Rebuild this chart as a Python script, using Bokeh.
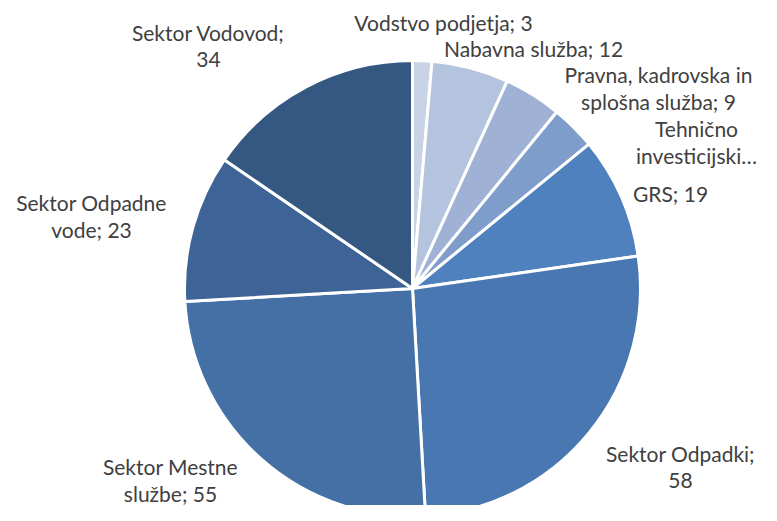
import math
from bokeh.plotting import figure
from bokeh.models import Range1d, ColumnDataSource
from bokeh.core.properties import value
from bokeh.embed import file_html
from bokeh.resources import INLINE

# ---- data ----
categories = ["Vodstvo podjetja", "Nabavna služba", "Pravna, kadrovska in splošna služba",
              "Tehnično investicijski", "GRS", "Sektor Odpadki", "Sektor Mestne službe",
              "Sektor Odpadne vode", "Sektor Vodovod"]
values = [3, 12, 9, 7, 19, 58, 55, 23, 34]
label_lines = [
    ["Vodstvo podjetja; 3"],
    ["Nabavna služba; 12"],
    ["Pravna, kadrovska in", "splošna služba; 9"],
    ["Tehnično", "investicijski…"],
    ["GRS; 19"],
    ["Sektor Odpadki;", "58"],
    ["Sektor Mestne", "službe; 55"],
    ["Sektor Odpadne", "vode; 23"],
    ["Sektor Vodovod;", "34"],
]
colors = ["#c9d3e6", "#b4c3de", "#9fb2d6", "#7f9dca", "#4e81bd",
          "#4877b2", "#4470a6", "#3e6397", "#355882"]

# ---- layout (pixel space of the picture, y measured from top) ----
W, H = 761, 505
CX, CY, R = 412, 288, 228
label_pos = [(443, 22), (533, 48), (658, 74), (696, 128), (670, 193),
             (680, 453), (170, 466), (91, 202), (208, 32)]
LINE_H = 27

p = figure(width=W, height=H, output_backend="svg", toolbar_location=None,
           x_range=Range1d(0, W), y_range=Range1d(0, H),
           min_border=0, outline_line_color=None)
p.axis.visible = False
p.grid.visible = False

total = sum(values)
starts, ends = [], []
cum = 0
for v in values:
    starts.append(math.pi / 2 - cum / total * 2 * math.pi)
    cum += v
    ends.append(math.pi / 2 - cum / total * 2 * math.pi)

src = ColumnDataSource(dict(x=[CX] * len(values), y=[H - CY] * len(values),
                            start=starts, end=ends, color=colors))
p.wedge(x="x", y="y", radius=R, start_angle="start", end_angle="end",
        direction="clock", fill_color="color", line_color="white", line_width=3,
        source=src)

tx, ty, tt = [], [], []
for (lx, ly), lines in zip(label_pos, label_lines):
    for i, t in enumerate(lines):
        tx.append(lx)
        ty.append(H - (ly + i * LINE_H))
        tt.append(t)
p.text(x=tx, y=ty, text=tt, text_align="center", text_baseline="middle",
       text_font=value("Lato"), text_font_size="21px", text_color="#404040")

open("out.html", "w").write(file_html(p, INLINE))
